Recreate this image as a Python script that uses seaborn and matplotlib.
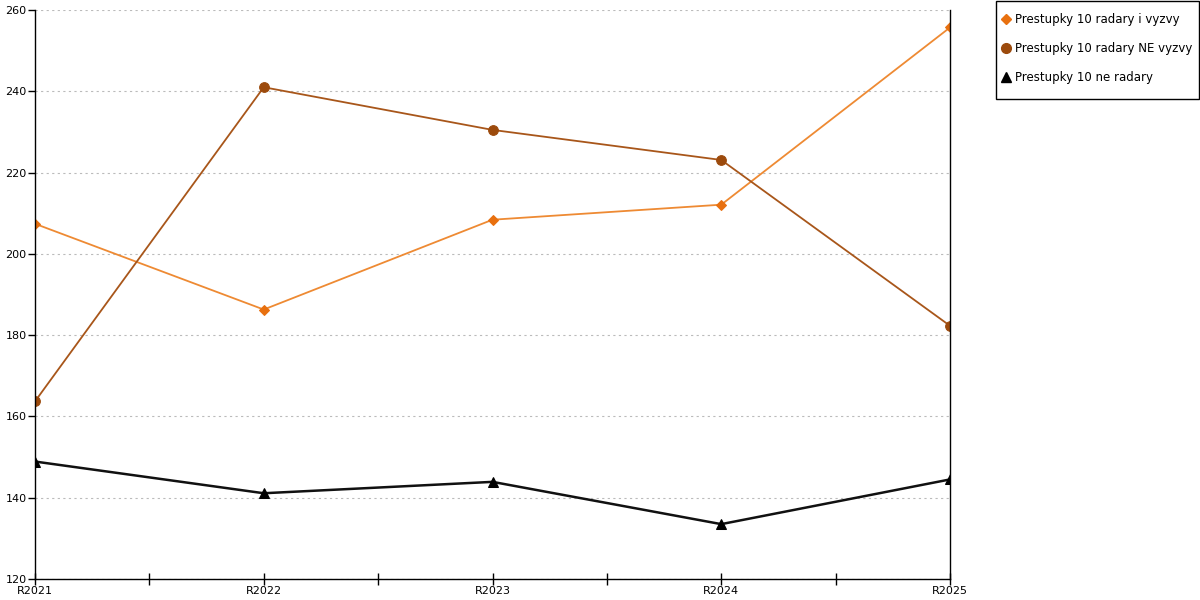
import pandas as pd
import seaborn as sns
import matplotlib.pyplot as plt
from matplotlib.lines import Line2D
from matplotlib.patches import Rectangle
from matplotlib.ticker import MultipleLocator

# data
years = ["R2021", "R2022", "R2023", "R2024", "R2025"]
radary_vyzvy = [207.4, 186.3, 208.4, 212.1, 255.7]
radary_ne_vyzvy = [163.7, 241.0, 230.5, 223.1, 182.3]
ne_radary = [148.9, 141.1, 143.9, 133.5, 144.5]

series = ["Prestupky 10 radary i vyzvy", "Prestupky 10 radary NE vyzvy", "Prestupky 10 ne radary"]
df = pd.DataFrame({
    "rok": years * 3,
    "x": list(range(len(years))) * 3,
    "hodnota": radary_vyzvy + radary_ne_vyzvy + ne_radary,
    "serie": [s for s in series for _ in years],
})

line_colors = {series[0]: "#EE8A33", series[1]: "#A8561A", series[2]: "#111111"}
marker_colors = {series[0]: "#E8700F", series[1]: "#9C4A0C", series[2]: "#000000"}
markers = {series[0]: "D", series[1]: "o", series[2]: "^"}
sizes = {series[0]: 5, series[1]: 7, series[2]: 7}
widths = {series[0]: 1.3, series[1]: 1.3, series[2]: 1.8}

sns.set_theme(style="white")
plt.rcParams['font.family'] = ['DejaVu Sans']
plt.rcParams['text.color'] = 'black'
plt.rcParams['xtick.color'] = 'black'
plt.rcParams['ytick.color'] = 'black'

fig = plt.figure(figsize=(12, 6), dpi=100)
ax = fig.add_axes([35 / 1200, 21 / 600, 915 / 1200, 569 / 600])

for s in series:
    sub = df[df["serie"] == s]
    sns.lineplot(data=sub, x="x", y="hodnota", ax=ax, color=line_colors[s],
                 linewidth=widths[s], marker=markers[s], markersize=sizes[s],
                 markerfacecolor=marker_colors[s], markeredgecolor=marker_colors[s],
                 legend=False)

ax.set_xlim(0, len(years) - 1)
ax.set_ylim(120, 260)
ax.set_xticks(range(len(years)))
ax.set_xticklabels(years)
ax.xaxis.set_minor_locator(MultipleLocator(0.5))
ax.yaxis.set_major_locator(MultipleLocator(20))
ax.set_xlabel("")
ax.set_ylabel("")
ax.grid(axis="y", color="#bbbbbb", linestyle=(0, (2, 3)), linewidth=0.8)
ax.set_axisbelow(True)

for side in ["left", "bottom", "right"]:
    ax.spines[side].set_color("black")
    ax.spines[side].set_linewidth(1)
ax.spines["top"].set_visible(False)

ax.tick_params(axis="x", which="both", direction="inout", length=8, width=1,
               bottom=True, labelsize=8, pad=1, labelcolor="black")
ax.tick_params(axis="y", which="major", direction="out", length=5, width=1,
               left=True, labelsize=8, pad=1, labelcolor="black")

# legend box drawn separately so its size matches the reference
fig.patches.append(Rectangle((995.5 / 1200, 1 - 98.5 / 600), 203.5 / 1200, 98 / 600,
                             transform=fig.transFigure, fill=False,
                             edgecolor="black", linewidth=1))

handles = [Line2D([], [], linestyle="none", marker=markers[s], markersize=sizes[s],
                  markerfacecolor=marker_colors[s], markeredgecolor=marker_colors[s], label=s)
           for s in series]
leg = fig.legend(handles=handles, loc="upper left", bbox_to_anchor=(996 / 1200, 1 - 6 / 600),
                 fontsize=8.5, frameon=False,
                 handlelength=0.5, handletextpad=0.5, labelspacing=1.35, borderpad=0.6,
                 borderaxespad=0)

plt.savefig("out.png", dpi=100)
